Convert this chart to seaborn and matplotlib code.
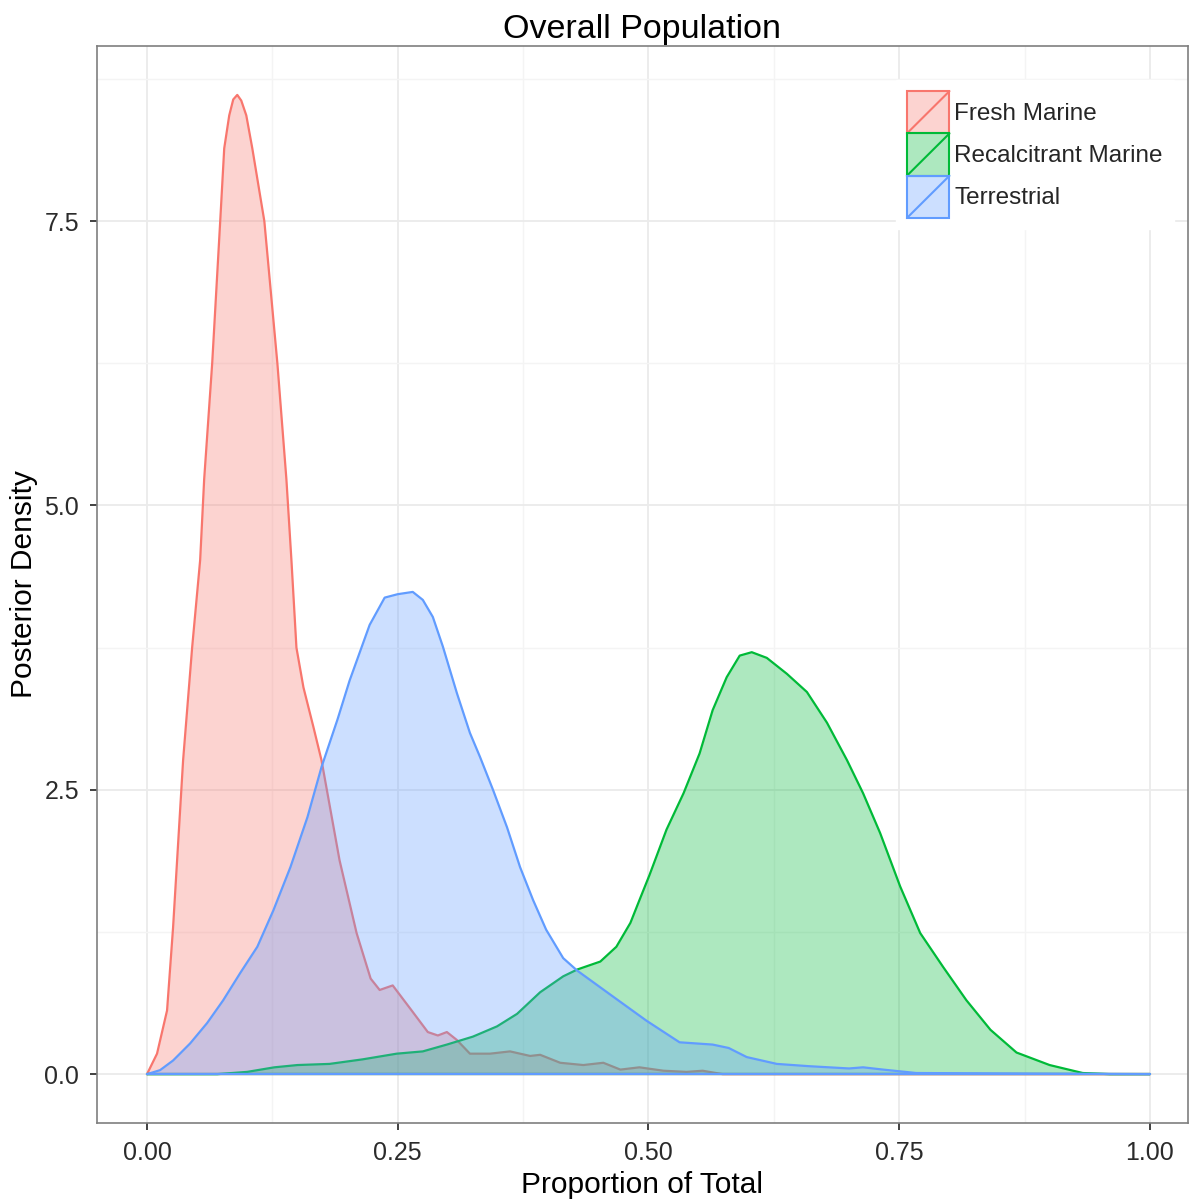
import matplotlib
matplotlib.use("Agg")
import matplotlib.pyplot as plt
import seaborn as sns
from matplotlib.legend_handler import HandlerBase
from matplotlib.patches import Rectangle, Patch
from matplotlib.lines import Line2D

# curvas de densidad
fresh_x = [0, 0.010, 0.020, 0.026, 0.036, 0.045, 0.053, 0.057, 0.065, 0.073, 0.077, 0.082,
           0.086, 0.090, 0.094, 0.099, 0.105, 0.117, 0.130, 0.139, 0.144, 0.149, 0.156,
           0.166, 0.174, 0.192, 0.209, 0.223, 0.232, 0.245, 0.263, 0.280, 0.290, 0.299,
           0.309, 0.322, 0.342, 0.362, 0.382, 0.392, 0.412, 0.435, 0.455, 0.472, 0.491,
           0.515, 0.538, 0.554, 0.574, 1.0]
fresh_y = [0, 0.18, 0.56, 1.29, 2.76, 3.75, 4.52, 5.23, 6.25, 7.5, 8.14, 8.43,
           8.57, 8.61, 8.56, 8.43, 8.14, 7.5, 6.25, 5.23, 4.52, 3.75, 3.40,
           3.05, 2.76, 1.88, 1.24, 0.84, 0.74, 0.78, 0.57, 0.37, 0.34, 0.37,
           0.30, 0.18, 0.18, 0.20, 0.16, 0.17, 0.10, 0.08, 0.10, 0.04, 0.06,
           0.03, 0.02, 0.03, 0.0, 0.0]

recal_x = [0, 0.07, 0.10, 0.127, 0.15, 0.182, 0.215, 0.249, 0.275, 0.299, 0.325, 0.349,
           0.369, 0.392, 0.415, 0.429, 0.452, 0.468, 0.482, 0.491, 0.501, 0.518, 0.535,
           0.551, 0.564, 0.578, 0.591, 0.603, 0.618, 0.638, 0.658, 0.678, 0.698, 0.714,
           0.731, 0.751, 0.771, 0.794, 0.817, 0.841, 0.867, 0.900, 0.933, 0.96, 1.0]
recal_y = [0, 0, 0.02, 0.06, 0.08, 0.09, 0.13, 0.18, 0.20, 0.26, 0.33, 0.42,
           0.53, 0.72, 0.86, 0.92, 0.99, 1.12, 1.33, 1.53, 1.75, 2.15, 2.47,
           2.82, 3.2, 3.49, 3.68, 3.71, 3.66, 3.52, 3.36, 3.09, 2.76, 2.47,
           2.12, 1.65, 1.24, 0.94, 0.65, 0.39, 0.19, 0.08, 0.01, 0, 0]

terr_x = [0, 0.013, 0.026, 0.043, 0.060, 0.076, 0.093, 0.110, 0.126, 0.143, 0.160, 0.174,
          0.190, 0.202, 0.222, 0.237, 0.25, 0.265, 0.275, 0.285, 0.295, 0.309, 0.322,
          0.332, 0.345, 0.359, 0.372, 0.385, 0.398, 0.415, 0.429, 0.465, 0.498, 0.531,
          0.564, 0.58, 0.598, 0.628, 0.66, 0.70, 0.714, 0.734, 0.767, 1.0]
terr_y = [0, 0.035, 0.12, 0.27, 0.45, 0.65, 0.89, 1.12, 1.44, 1.82, 2.26, 2.70,
          3.12, 3.46, 3.95, 4.19, 4.22, 4.24, 4.17, 4.02, 3.76, 3.35, 3.0,
          2.79, 2.5, 2.17, 1.82, 1.53, 1.27, 1.02, 0.91, 0.68, 0.47, 0.28,
          0.26, 0.23, 0.15, 0.09, 0.07, 0.05, 0.06, 0.04, 0.01, 0.0]

groups = ["Fresh Marine", "Recalcitrant Marine", "Terrestrial"]
colors = ["#F8766D", "#00BA38", "#619CFF"]
x_ticks = [0.0, 0.25, 0.5, 0.75, 1.0]
x_labels = ["0.00", "0.25", "0.50", "0.75", "1.00"]
y_ticks = [0.0, 2.5, 5.0, 7.5]
y_labels = ["0.0", "2.5", "5.0", "7.5"]

sns.set_theme(style="white")
plt.rcParams["font.family"] = ["Liberation Sans", "DejaVu Sans"]


class DensityKey(HandlerBase):
    """Clave de leyenda al estilo ggplot: caja rellena con diagonal"""
    def create_artists(self, legend, orig, xd, yd, w, h, fontsize, trans):
        fc = orig.get_facecolor()
        ec = orig.get_edgecolor()
        r = Rectangle((-xd, -yd), w, h, facecolor=fc, edgecolor=ec, lw=1.5, transform=trans)
        l = Line2D([-xd, -xd + w], [-yd, -yd + h], color=ec, lw=1.5, transform=trans)
        return [r, l]


fig = plt.figure(figsize=(11.97, 12.01), dpi=100)
ax = fig.add_axes([0.0810, 0.0649, 0.9115, 0.8968])

series = [(fresh_x, fresh_y), (recal_x, recal_y), (terr_x, terr_y)]
for i, ((xs, ys), g, c) in enumerate(zip(series, groups, colors)):
    ax.fill_between(xs, ys, 0, color=c, alpha=0.32, lw=0, zorder=3 + 2 * i)
    sns.lineplot(x=xs, y=ys, color=c, lw=1.6, ax=ax, sort=False, zorder=4 + 2 * i)
    ax.plot([xs[0], xs[-1]], [0, 0], color=c, lw=1.6, zorder=4 + 2 * i)

ax.set_xlim(-0.0499, 1.038)
ax.set_ylim(-0.43, 9.04)
ax.set_xticks(x_ticks)
ax.set_xticklabels(x_labels)
ax.set_yticks(y_ticks)
ax.set_yticklabels(y_labels)
ax.set_xticks([0.125, 0.375, 0.625, 0.875], minor=True)
ax.set_yticks([1.25, 3.75, 6.25, 8.75], minor=True)
ax.grid(which="major", color="#EBEBEB", lw=1.3, zorder=0)
ax.grid(which="minor", color="#F4F4F4", lw=1.0, zorder=0)
ax.set_axisbelow(True)
ax.tick_params(which="major", direction="out", length=5, width=1.3, color="#333333",
               labelsize=18, labelcolor="#2B2B2B", pad=8, bottom=True, left=True)
ax.tick_params(which="minor", length=0)
for s in ax.spines.values():
    s.set_color("#7F7F7F")
    s.set_linewidth(1.2)

ax.set_title("Overall Population", fontsize=24.5, color="black", pad=6)
ax.set_xlabel("Proportion of Total", fontsize=21.5, color="black", labelpad=4)
ax.set_ylabel("Posterior Density", fontsize=21.5, color="black", labelpad=4)

handles = [Patch(facecolor=matplotlib.colors.to_rgba(c, 0.32), edgecolor=c) for c in colors]
leg = ax.legend(handles, groups, handler_map={Patch: DensityKey()}, loc="upper right",
                bbox_to_anchor=(0.9936, 0.975), fontsize=17.5, frameon=True, fancybox=False,
                framealpha=1, edgecolor="white", handlelength=1.75, handleheight=2.3,
                labelspacing=0.0, handletextpad=0.2, borderpad=0.45, borderaxespad=0.3)
leg.set_zorder(20)

fig.savefig("out.png", dpi=100)
